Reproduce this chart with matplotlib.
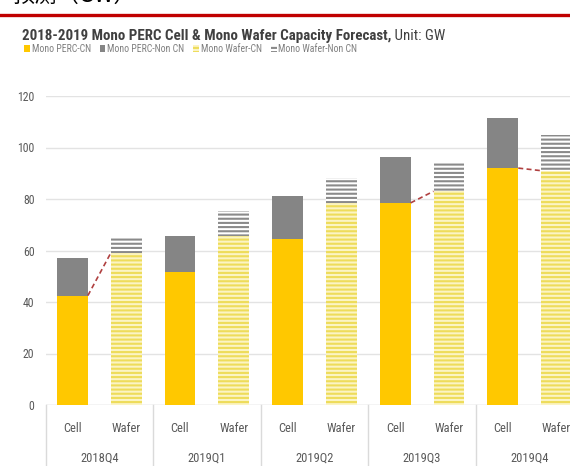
import matplotlib
matplotlib.use("Agg")
import matplotlib.pyplot as plt
from matplotlib import font_manager
import numpy as np

# ---- data (GW) ----
quarters = ["2018Q4", "2019Q1", "2019Q2", "2019Q3", "2019Q4"]
kinds = ["Cell", "Wafer"]
cell_cn = [42.5, 51.5, 64.5, 78.5, 92.0]
cell_non_cn = [14.5, 14.0, 16.5, 18.0, 19.5]
wafer_cn = [59.0, 65.5, 78.5, 83.0, 91.0]
wafer_non_cn = [6.0, 10.0, 9.5, 11.5, 14.0]
linked_quarters = ["2018Q4", "2019Q3", "2019Q4"]
y_ticks = [0, 20, 40, 60, 80, 100, 120]
series_names = ["Mono PERC-CN", "Mono PERC-Non CN", "Mono Wafer-CN", "Mono Wafer-Non CN"]
title_bold = "2018-2019 Mono PERC Cell & Mono Wafer Capacity Forecast,"
title_unit = " Unit: GW"
header = "预测（GW）"

# ---- fonts: pick a narrow sans with regular and bold faces ----
faces = {}
for f in font_manager.fontManager.ttflist:
    if f.style == "normal":
        faces.setdefault(f.name, set()).add(f.weight)
narrow = "DejaVu Sans"
for cand in ["Liberation Sans Narrow", "Roboto Condensed", "Open Sans Condensed",
             "Archivo Narrow", "Asap Condensed", "Barlow Semi Condensed", "Barlow Condensed"]:
    w = faces.get(cand, set())
    if 400 in w and 700 in w:
        narrow = cand
        break
plt.rcParams["font.family"] = [narrow, "DejaVu Sans"]
plt.rcParams["hatch.linewidth"] = 1.5

W, H = 570, 466
fig = plt.figure(figsize=(W / 100, H / 100), dpi=100)
fig.patch.set_facecolor("white")
renderer = fig.canvas.get_renderer()

# page header strip: heading text and red rule
fig.text(12 / W, 1 - 7 / H, header, fontsize=16, color="black",
         family=["Noto Sans CJK SC", "DejaVu Sans"], va="bottom", ha="left")
fig.add_artist(plt.Line2D([0, 1], [1 - 14.5 / H] * 2, color="#C00000", lw=2.4,
                          transform=fig.transFigure))

# chart title, scaled to span the chart width
t1 = fig.text(22 / W, 1 - 36 / H, title_bold, fontsize=11, fontweight="bold",
              color="#404040", va="center", ha="left")
t2 = fig.text(0, 1 - 36 / H, title_unit, fontsize=11, color="#404040",
              va="center", ha="left")
w_total = (t1.get_window_extent(renderer).width + t2.get_window_extent(renderer).width)
size = 11 * 423 / w_total
t1.set_fontsize(size)
t2.set_fontsize(size)
t2.set_x((22 + t1.get_window_extent(renderer).width) / W)

# axes
left_px, right_px = 45.5, 583.5
y0_px, ytop_px = 405, 96
ax = fig.add_axes([left_px / W, (H - y0_px) / H, (right_px - left_px) / W,
                   (y0_px - ytop_px) / H])
ax.set_xlim(-0.5, 2 * len(quarters) - 0.5)
ax.set_ylim(0, 120)

n = len(quarters)
idx = np.arange(n)
x_cell = 2 * idx
x_wafer = 2 * idx + 1
bw = 0.575

c_yellow = "#FFC800"
c_gray = "#858585"
b1 = ax.bar(x_cell, cell_cn, bw, color=c_yellow, lw=0, zorder=3, label=series_names[0])
b2 = ax.bar(x_cell, cell_non_cn, bw, bottom=cell_cn, color=c_gray, lw=0, zorder=3,
            label=series_names[1])
b3 = ax.bar(x_wafer, wafer_cn, bw, facecolor="#FBF4C4", edgecolor="#EEDC5A", lw=0,
            hatch="----", zorder=3, label=series_names[2])
b4 = ax.bar(x_wafer, wafer_non_cn, bw, bottom=wafer_cn, facecolor="white",
            edgecolor="#8A8A8A", lw=0, hatch="----", zorder=3, label=series_names[3])

# dashed connectors from cell CN top to wafer CN top
for q in linked_quarters:
    i = quarters.index(q)
    ax.plot([x_cell[i] + bw / 2, x_wafer[i] - bw / 2], [cell_cn[i], wafer_cn[i]],
            ls=(0, (3, 2)), color="#B04040", lw=1.2, zorder=4)

# grid and spines
ax.set_yticks(y_ticks)
ax.set_yticklabels([str(v) for v in y_ticks])
ax.yaxis.grid(True, color="#E3E3E3", lw=1.0, zorder=0)
for s in ax.spines.values():
    s.set_visible(False)
ax.axhline(0, color="#E3E3E3", lw=1.0, zorder=1)
ax.tick_params(axis="y", length=0, pad=8, labelsize=8.5, labelcolor="#595959")
ax.tick_params(axis="x", length=0, pad=12, labelsize=9, labelcolor="#595959")
ax.set_xticks(np.concatenate([x_cell, x_wafer]))
ax.set_xticklabels(kinds[0:1] * n + kinds[1:2] * n)

# group labels and separators under the axis
xt = ax.get_xaxis_transform()
for i, q in enumerate(quarters):
    ax.text(2 * i + 0.5, -53 / (y0_px - ytop_px), q, transform=xt, ha="center",
            va="center", fontsize=9, color="#595959")
for b in np.arange(n + 1) * 2 - 0.5:
    ax.plot([b, b], [0, -70 / (y0_px - ytop_px)], transform=xt, color="#DADADA",
            lw=1.0, clip_on=False)

# legend
fig.legend(handles=[b1, b2, b3, b4], loc="center left",
           bbox_to_anchor=(20 / W, 1 - 49 / H), ncol=4, frameon=False,
           fontsize=7, labelcolor="#7F7F7F", handlelength=0.6, handleheight=0.6,
           handletextpad=0.2, columnspacing=0.9, borderaxespad=0)

fig.savefig("out.png", dpi=100, facecolor="white")
